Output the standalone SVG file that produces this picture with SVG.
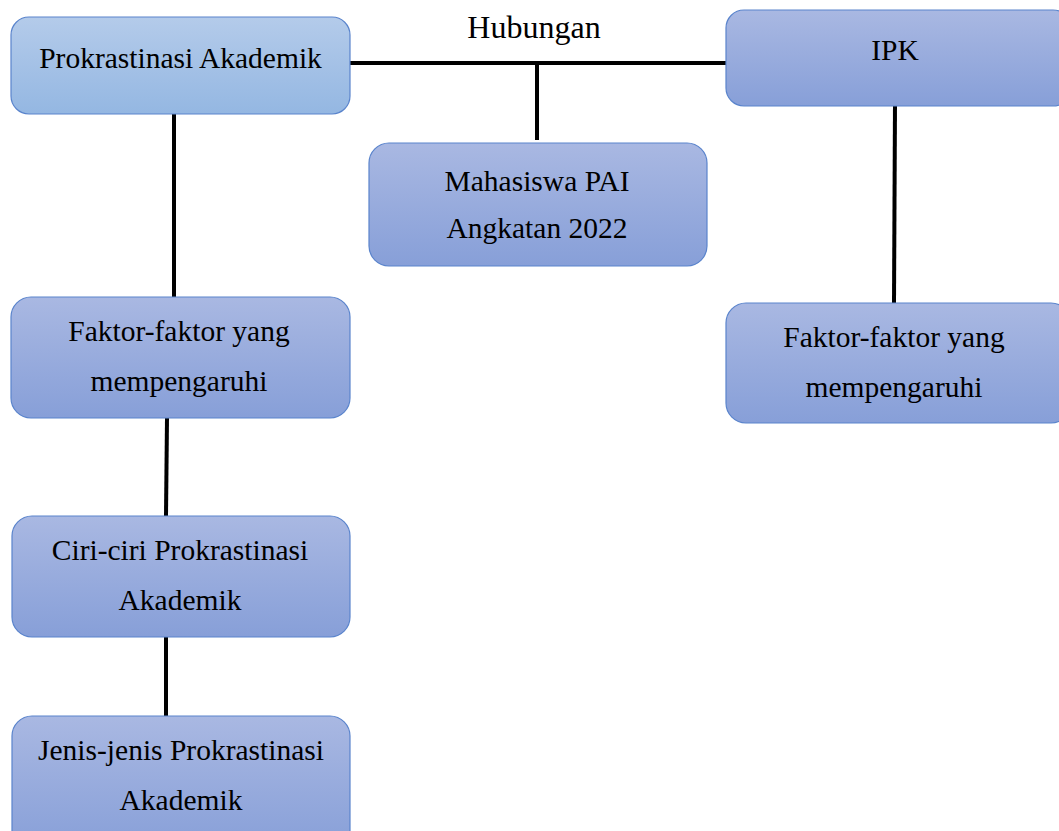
<svg xmlns="http://www.w3.org/2000/svg" width="1059" height="831" viewBox="0 0 1059 831" font-family="Liberation Serif, serif">
<defs>
<linearGradient id="g1" x1="0" y1="0" x2="0" y2="1"><stop offset="0" stop-color="#b4cbea"/><stop offset="1" stop-color="#94b7e2"/></linearGradient>
<linearGradient id="g2" x1="0" y1="0" x2="0" y2="1"><stop offset="0" stop-color="#a9b8e2"/><stop offset="1" stop-color="#879fd8"/></linearGradient>
</defs>
<style>
.box{stroke:#5a84cc;stroke-width:1.2}
.b1{fill:url(#g1)}
.b2{fill:url(#g2)}
text{font-family:'Liberation Serif','Times New Roman',serif;font-size:29.5px;fill:#000;text-anchor:middle}
.lbl{font-size:32px}
.c{stroke:#000;stroke-width:4;fill:none}
</style>
<rect width="1059" height="831" fill="#fff"/>
<g id="connectors">
<line class="c" x1="350" y1="63" x2="727" y2="63"/>
<line class="c" x1="537" y1="63" x2="537" y2="140"/>
<line class="c" x1="174" y1="114" x2="174" y2="297"/>
<line class="c" x1="167" y1="418" x2="166" y2="516"/>
<line class="c" x1="166" y1="637" x2="166" y2="716"/>
<line class="c" x1="895" y1="103" x2="894" y2="303"/>
<text class="lbl" x="534" y="38">Hubungan</text>
</g>
<g id="n1"><rect class="box b1" x="11" y="17" width="339" height="97" rx="18"/><text x="180.5" y="68">Prokrastinasi Akademik</text></g>
<g id="n2"><rect class="box b2" x="726" y="10" width="345" height="96" rx="18"/><text x="895" y="60">IPK</text></g>
<g id="n3"><rect class="box b2" x="369" y="143" width="338" height="123" rx="20"/><text x="537" y="191">Mahasiswa PAI</text><text x="537" y="238">Angkatan 2022</text></g>
<g id="n4"><rect class="box b2" x="11" y="297" width="339" height="121" rx="20"/><text x="179" y="341">Faktor-faktor yang</text><text x="179" y="391">mempengaruhi</text></g>
<g id="n5"><rect class="box b2" x="726" y="303" width="345" height="120" rx="20"/><text x="894" y="347">Faktor-faktor yang</text><text x="894" y="397">mempengaruhi</text></g>
<g id="n6"><rect class="box b2" x="12" y="516" width="338" height="121" rx="20"/><text x="180" y="560">Ciri-ciri Prokrastinasi</text><text x="180" y="610">Akademik</text></g>
<g id="n7"><rect class="box b2" x="12" y="716" width="338" height="135" rx="20"/><text x="181" y="760">Jenis-jenis Prokrastinasi</text><text x="181" y="810">Akademik</text></g>
</svg>
